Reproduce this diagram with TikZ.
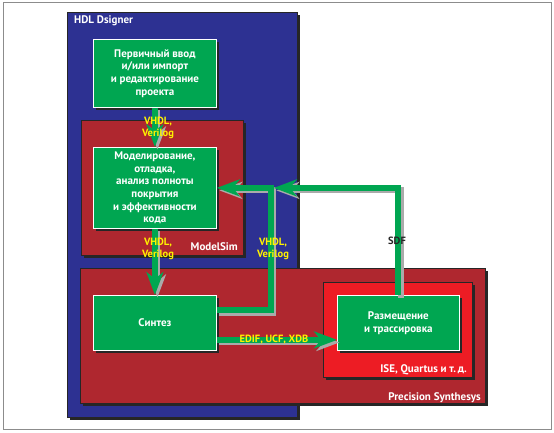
\documentclass[tikz,border=0pt]{standalone}
\usepackage{fontspec}
\setmainfont{PT Sans}
\usetikzlibrary{shadows,arrows.meta}
\definecolor{cblue}{RGB}{45,49,146}
\definecolor{cdred}{RGB}{175,39,47}
\definecolor{cbred}{RGB}{237,28,36}
\definecolor{cgreen}{RGB}{0,166,81}
\definecolor{cyell}{RGB}{255,242,0}
\definecolor{cshad}{RGB}{170,170,170}
\begin{document}
\begin{tikzpicture}[x=1pt,y=1pt,
  font=\bfseries\fontsize{11}{12.6}\selectfont,
  blackshadow/.style={drop shadow={shadow xshift=3pt,shadow yshift=-3pt,fill=black!85,opacity=1}},
  container/.style={draw=black!85,line width=0.6pt,inner sep=0pt,anchor=north west,blackshadow},
  proc/.style={draw=white,line width=0.8pt,fill=cgreen,text=white,align=center,
    inner sep=0pt,anchor=north west,blackshadow},
  tip/.style={-{Stealth[length=23pt,width=17pt,inset=7pt]}},
  flow/.style={draw=cgreen,line width=6pt,line join=miter,tip},
  flowshadow/.style={draw=cshad,line width=6pt,line join=miter,tip,
    transform canvas={xshift=2.5pt,yshift=-2.5pt}},
  conlabel/.style={text=white,inner sep=0pt},
  fmt/.style={text=cyell,align=center,inner sep=0pt,font=\bfseries\fontsize{10.5}{12.5}\selectfont}
]
\useasboundingbox (0,0) rectangle (554,432);
\draw[black!45,line width=0.8pt] (3,3) rectangle (551,430);

% containers
\node[container,fill=cblue,minimum width=230pt,minimum height=405pt] (hdl) at (67,420) {};
\node[container,fill=cdred,minimum width=162pt,minimum height=135pt] (msim) at (81,312) {};
\node[container,fill=cdred,minimum width=405pt,minimum height=135pt] (prec) at (80,164) {};
\node[container,fill=cbred,minimum width=149pt,minimum height=95pt] (ise) at (323,150) {};

\node[conlabel,anchor=base west] (hdlt) at (74,408) {HDL Dsigner};
\node[conlabel,anchor=base east] (msimt) at (238,182) {ModelSim};
\node[conlabel,anchor=base east] (iset) at (467,60) {ISE, Quartus и т.\,д.};
\node[conlabel,anchor=base east] (prect) at (481,32) {Precision Synthesys};

% process boxes
\node[proc,minimum width=123pt,minimum height=68pt] (box1) at (93,393)
  {Первичный ввод\\и/или импорт\\и редактирование\\проекта};
\node[proc,minimum width=123pt,minimum height=81pt] (box2) at (93,285)
  {Моделирование,\\отладка,\\анализ полноты\\покрытия\\и эффективности\\кода};
\node[proc,minimum width=123pt,minimum height=55pt] (synth) at (93,137) {Синтез};
\node[proc,minimum width=122pt,minimum height=55pt] (pr) at (337,137)
  {Размещение\\и трассировка};

% connector shadows
\draw[flowshadow] (box1.south) -- (box2.north);
\draw[flowshadow] (box2.south) -- (synth.north);
\draw[flowshadow] ([yshift=12.5pt]synth.east) -| ([xshift=54pt]box2.east) -- (box2.east);
\draw[flowshadow] (pr.north) |- ([xshift=57pt]box2.east);
\draw[flowshadow] ([yshift=-17pt]synth.east) -- ([yshift=-17pt]pr.west);
% connectors
\draw[flow] (box1.south) -- (box2.north);
\draw[flow] (box2.south) -- (synth.north);
\draw[flow] ([yshift=12.5pt]synth.east) -| ([xshift=54pt]box2.east) -- (box2.east);
\draw[flow] (pr.north) |- ([xshift=57pt]box2.east);
\draw[flow] ([yshift=-17pt]synth.east) -- ([yshift=-17pt]pr.west);

% connector labels
\node[fmt] (l1) at (158,304) {VHDL,\\Verilog};
\node[fmt] (l2) at (158,183) {VHDL,\\Verilog};
\node[fmt] (l3) at (273,183) {VHDL,\\Verilog};
\node[fmt,text=black!85] (l4) at (397,191) {SDF};
\node[fmt] (l5) at (274,92) {EDIF, UCF, XDB};
\end{tikzpicture}
\end{document}
